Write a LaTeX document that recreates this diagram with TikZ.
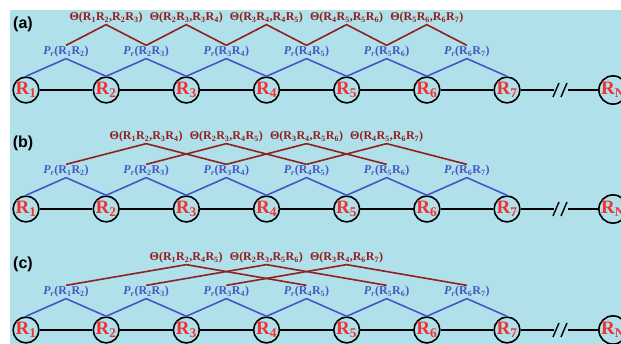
\documentclass[tikz,border=0pt]{standalone}
\usepackage{fontspec}
\setmainfont{Liberation Serif}
\newfontfamily\panelfont{Liberation Sans}
\usetikzlibrary{positioning}

\definecolor{bgblue}{RGB}{176,224,234}
\definecolor{sitered}{RGB}{240,50,50}
\definecolor{pblue}{RGB}{70,86,200}
\definecolor{tred}{RGB}{145,32,32}

\newcommand{\Rn}[1]{R\textsubscript{#1}}
\newcommand{\Pair}[2]{\textit{P}\textsubscript{\textit{r}}(\Rn{#1}\Rn{#2})}
\newcommand{\Th}[4]{Θ(\Rn{#1}\Rn{#2},\Rn{#3}\Rn{#4})}

\tikzset{
  site/.style={circle,draw=black,line width=1.6pt,fill=bgblue,minimum size=24pt,
    inner sep=0pt,text=sitered,font=\bfseries\fontsize{19}{19}\selectfont},
  plab/.style={text=pblue,inner sep=1pt,font=\bfseries\fontsize{12}{12}\selectfont},
  tlab/.style={text=tred,inner sep=1pt,font=\bfseries\fontsize{12}{12}\selectfont},
  panel/.style={inner sep=0pt,font=\panelfont\bfseries\fontsize{16}{16}\selectfont},
  pline/.style={pblue,line width=1.6pt},
  tline/.style={tred,line width=1.6pt},
  chain/.style={black,line width=1.4pt}
}

\begin{document}
\begin{tikzpicture}[x=1pt,y=-1pt]
\useasboundingbox (0,0) rectangle (621,344);
\fill[bgblue] (10,10) rectangle (621,344);

\foreach \row/\yy/\k in {a/90/1,b/209/2,c/330/3} {
	\node[panel] (\row lab) at (23,\yy-66) {(\row)};
	% sites
	\foreach \i in {1,...,7}
		\node[site] (\row\i) at ({26+80.17*(\i-1)},\yy) {\Rn{\i}};
	\node[site] (\row N) at (613,\yy) {\Rn{N}};
	\foreach \i [count=\j from 2] in {1,...,6}
		\draw[chain] (\row\i) -- (\row\j);
	\coordinate (\row brkA) at (554,\yy);
	\coordinate (\row brkB) at (568,\yy);
	\draw[chain] (\row7) -- (\row brkA);
	\draw[chain] (\row brkB) -- (\row N);
	\draw[chain] (553,\yy+7) -- (559,\yy-7);
	\draw[chain] (561,\yy+7) -- (567,\yy-7);
	% pair terms
	\foreach \i [count=\j from 2] in {1,...,6} {
		\node[plab] (\row p\i) at ({66+80.17*(\i-1)},\yy-38) {\Pair{\i}{\j}};
		\draw[pline] (\row\i.north) -- (\row p\i.south) -- (\row\j.north);
	}
	% correlation terms
	\pgfmathtruncatemacro{\last}{6-\k}
	\foreach \i in {1,...,\last} {
		\pgfmathtruncatemacro{\ia}{\i+1}
		\pgfmathtruncatemacro{\ib}{\i+\k}
		\pgfmathtruncatemacro{\ic}{\i+\k+1}
		\node[tlab] (\row t\i) at ({66+80.17*(\i-1)+40.08*\k},\yy-72) {\Th{\i}{\ia}{\ib}{\ic}};
		\draw[tline] (\row p\i.north) -- (\row t\i.south) -- (\row p\ib.north);
	}
}
\end{tikzpicture}
\end{document}
